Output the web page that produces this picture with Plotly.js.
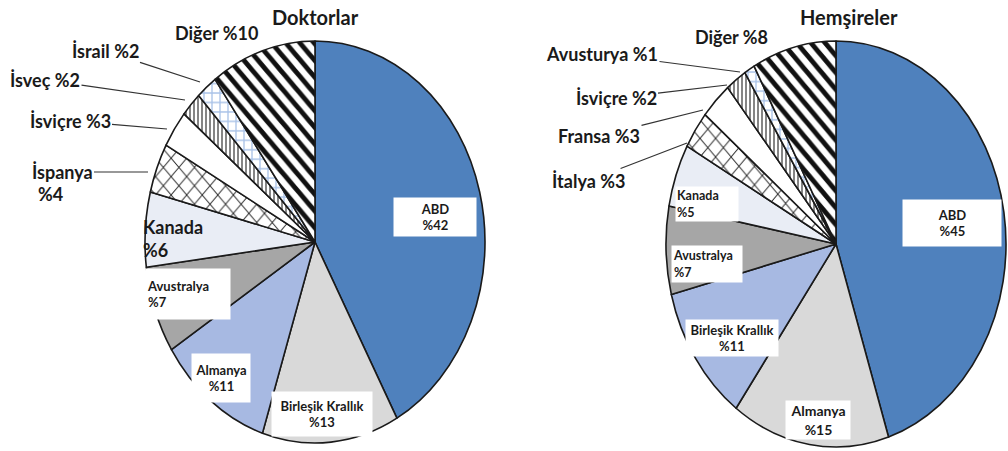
<!DOCTYPE html>
<html><head><meta charset="utf-8">
<script src="https://cdn.plot.ly/plotly-3.0.1.min.js"></script>
<style>html,body{margin:0;padding:0;background:#fff}#chart{width:1008px;height:451px}</style>
</head><body><div id="chart"></div>
<script>
// ---- data ----
const doctorLabels = ['ABD','Birleşik Krallık','Almanya','Avustralya','Kanada','İspanya','İsviçre','İsveç','İsrail','Diğer'];
const doctorValues = [42,13,11,7,6,4,3,2,2,10];
const nurseLabels = ['ABD','Almanya','Birleşik Krallık','Avustralya','Kanada','İtalya','Fransa','İsviçre','Avusturya','Diğer'];
const nurseValues = [45,15,11,7,5,3,3,2,1,8];
const chartTitles = ['Doktorlar','Hemşireler'];

// ---- styles (by slice position) ----
const sliceColors = ['#4f81bd','#d9d9d9','#a7b9e2','#a6a6a6','#e9edf5','#ffffff','#ffffff','#ffffff','#ffffff','#ffffff'];
const patShapes = ['','','','','','x','','|','+','\\'];
const patFg = ['#000','#000','#000','#000','#000','#222','#000','#333','#a9c2e8','#111'];
const patSize = [8,8,8,8,8,11,8,4,8,10];
const patSolid = [0.3,0.3,0.3,0.3,0.3,0.15,0.3,0.3,0.3,0.45];

const W = 1008, H = 451;
const geo = [{cx:315, cy:242, rx:170, ry:201}, {cx:836, cy:244, rx:170, ry:203}];

function pie(labels, values, g) {
  return {
    type:'pie', labels:labels, values:values, sort:false, direction:'clockwise', rotation:0,
    textinfo:'none', hoverinfo:'label+value',
    domain:{x:[(g.cx-g.rx)/W,(g.cx+g.rx)/W], y:[1-(g.cy+g.rx)/H, 1-(g.cy-g.rx)/H]},
    marker:{colors:sliceColors, line:{color:'#1a1a1a', width:1.6},
      pattern:{shape:patShapes, fgcolor:patFg, bgcolor:sliceColors, size:patSize, solidity:patSolid}},
    showlegend:false
  };
}

// label placement (pixels): i = slice index, part: 'two'|'one'|'name'|'value'
const leftPlace = [
  {i:0, part:'two', x:435, y:217, w:80, h:36, size:13},
  {i:1, part:'two', x:322, y:414, w:98, h:42, size:13},
  {i:2, part:'two', x:221, y:378, w:56, h:46, size:13},
  {i:3, part:'two', x:188, y:294, w:82, h:48, size:13, align:'left'},
  {i:4, part:'two', x:173, y:238, size:18, align:'left', nobox:true},
  {i:5, part:'name', x:62, y:172, size:18, arrow:[148,172]},
  {i:5, part:'value', x:50, y:194, size:18},
  {i:6, part:'one', x:70, y:121, size:18, arrow:[167,129]},
  {i:7, part:'one', x:45, y:80, size:18, arrow:[185,100]},
  {i:8, part:'one', x:105, y:51, size:18, arrow:[200,82]},
  {i:9, part:'one', x:216, y:33, size:18}
];
const rightPlace = [
  {i:0, part:'two', x:952, y:223, w:96, h:44, size:13},
  {i:1, part:'two', x:818, y:420, w:62, h:36, size:14},
  {i:2, part:'two', x:732, y:338, w:90, h:34, size:13},
  {i:3, part:'two', x:707, y:264, w:68, h:34, size:12.5, align:'left'},
  {i:4, part:'two', x:707, y:204, w:60, h:32, size:12.5, align:'left'},
  {i:5, part:'one', x:588, y:181, size:18, arrow:[687,143]},
  {i:6, part:'one', x:599, y:136, size:18, arrow:[703,110]},
  {i:7, part:'one', x:616, y:98, size:18, arrow:[727,85]},
  {i:8, part:'one', x:602, y:54, size:18, arrow:[740,72]},
  {i:9, part:'one', x:731, y:37, size:18}
];

function labelText(labels, values, p) {
  const n = labels[p.i], v = '%' + values[p.i];
  if (p.part === 'two') return n + '<br>' + v;
  if (p.part === 'name') return n;
  if (p.part === 'value') return v;
  return n + ' ' + v;
}

function makeAnns(labels, values, place) {
  return place.map(p => {
    const a = {
      xref:'paper', yref:'paper', xanchor:'center', yanchor:'middle',
      text:'<b>' + labelText(labels, values, p) + '</b>',
      font:{family:'Lato, "Open Sans", sans-serif', size:p.size, color:'#1a1a1a'},
      align:p.align || 'center', showarrow:false
    };
    if (p.part === 'two' && !p.nobox) { a.bgcolor = '#ffffff'; a.width = p.w; a.height = p.h; }
    if (p.arrow) {
      a.showarrow = true; a.arrowhead = 0; a.arrowwidth = 1.2; a.arrowcolor = '#333';
      a.x = p.arrow[0]/W; a.y = 1 - p.arrow[1]/H;
      a.ax = p.x - p.arrow[0]; a.ay = p.y - p.arrow[1];
    } else { a.x = p.x/W; a.y = 1 - p.y/H; }
    return a;
  });
}

const titleAnns = [
  {text:'<b>' + chartTitles[0] + '</b>', x:315/W, y:1-17/H},
  {text:'<b>' + chartTitles[1] + '</b>', x:849/W, y:1-17/H}
].map(t => Object.assign(t, {xref:'paper', yref:'paper', xanchor:'center', yanchor:'middle', showarrow:false,
  font:{family:'Lato, "Open Sans", sans-serif', size:20, color:'#1a1a1a'}}));

const layout = {
  width:W, height:H, margin:{l:0,r:0,t:0,b:0}, paper_bgcolor:'#fff', showlegend:false,
  annotations: titleAnns.concat(makeAnns(doctorLabels, doctorValues, leftPlace), makeAnns(nurseLabels, nurseValues, rightPlace))
};

Plotly.newPlot('chart', [pie(doctorLabels, doctorValues, geo[0]), pie(nurseLabels, nurseValues, geo[1])], layout, {displayModeBar:false, staticPlot:true})
.then(() => {
  // the original pies are drawn slightly taller than wide: stretch each pie vertically about its centre
  document.querySelectorAll('.pielayer .trace').forEach((t, k) => {
    const g = geo[k]; const s = g.ry / g.rx;
    t.setAttribute('transform', 'matrix(1,0,0,' + s + ',0,' + (g.cy*(1-s)) + ')');
    t.querySelectorAll('path').forEach(p => p.setAttribute('vector-effect','non-scaling-stroke'));
  });
});
</script>
</body></html>
